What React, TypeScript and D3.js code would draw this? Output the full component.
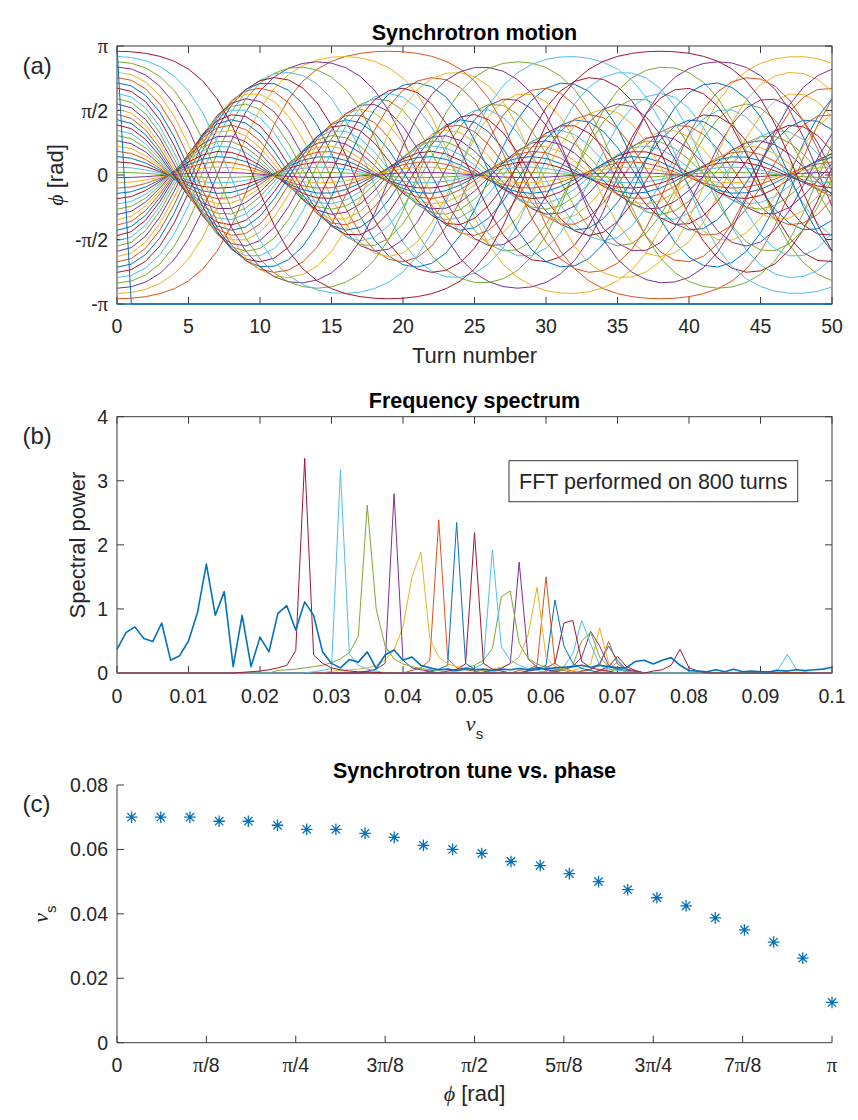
import React from 'react';
import * as d3 from 'd3';

// ---------- shared style ----------
const COLORS = ['#0072BD', '#D95319', '#EDB120', '#7E2F8E', '#77AC30', '#4DBEEE', '#A2142F'];
const SANS = "'Liberation Sans', Arial, Helvetica, sans-serif";
const SERIF = "'Liberation Serif', 'DejaVu Serif', 'Times New Roman', serif";
const INK = '#262626';
const AXIS = '#3a3a3a';

// ---------- panel (a): synchrotron motion ----------
// initial phases of the 50 tracked particles, in units of pi/49
const INITIAL_PHASE_UNITS = [
  -49, -47, -45, -43, -41, -39, -37, -35, -33, -31, -29, -27, -25, -23, -21, -19, -17,
  -15, -13, -11, -9, -7, -5, -3, -1, 1, 3, 5, 7, 9, 11, 13, 15, 17, 19, 21, 23, 25, 27,
  29, 31, 33, 35, 37, 39, 41, 43, 45, 47, 49,
];
const SMALL_AMPLITUDE_TUNE = 0.07;
const N_TURNS = 50;
const TURN_TICKS = [0, 5, 10, 15, 20, 25, 30, 35, 40, 45, 50];
const PHASE_TICK_LABELS = ['-π', '-π/2', '0', 'π/2', 'π'];
const PHASE_TICK_UNITS = [-1, -0.5, 0, 0.5, 1]; // in units of pi

// ---------- panel (b): frequency spectrum ----------
const FREQ_BIN = 1 / 800;
const FREQ_N_BINS = 81;
const FREQ_TICKS = [0, 0.01, 0.02, 0.03, 0.04, 0.05, 0.06, 0.07, 0.08, 0.09, 0.1];
const FREQ_TICK_LABELS = ['0', '0.01', '0.02', '0.03', '0.04', '0.05', '0.06', '0.07', '0.08', '0.09', '0.1'];
const POWER_TICKS = [0, 1, 2, 3, 4];
// spectra of particles 25..48 : [particle, [firstBin, values...], ...]
const SPECTRUM_SEGMENTS: [number, number[][]][] = [
  [25, [[54, 0.01, 0.02, 0.06, 0.02, 0.01]]],
  [26, [[54, 0.03, 0.06, 0.17, 0.06, 0.03]]],
  [27, [[54, 0.04, 0.1, 0.26, 0.1, 0.04]]],
  [28, [[52, 0.03, 0.05, 0.15, 0.42, 0.2, 0.06, 0.03]]],
  [29, [[52, 0.03, 0.06, 0.12, 0.49, 0.14, 0.05, 0.03]]],
  [30, [[51, 0.04, 0.08, 0.14, 0.7, 0.16, 0.07, 0.03]]],
  [31, [[49, 0.03, 0.05, 0.1, 0.25, 0.65, 0.42, 0.12, 0.06, 0.04, 0.03]]],
  [32, [[49, 0.04, 0.06, 0.12, 0.5, 0.64, 0.25, 0.1, 0.05, 0.03]]],
  [33, [[48, 0.03, 0.05, 0.1, 0.3, 0.82, 0.45, 0.12, 0.06, 0.04, 0.03]]],
  [34, [[46, 0.03, 0.05, 0.08, 0.15, 0.78, 0.82, 0.18, 0.08, 0.05, 0.03]]],
  [35, [[46, 0.04, 0.06, 0.12, 1.14, 0.42, 0.15, 0.07, 0.04]]],
  [36, [[45, 0.04, 0.06, 0.12, 1.5, 0.15, 0.06, 0.03]]],
  [37, [[42, 0.06, 0.09, 0.14, 0.25, 0.6, 1.34, 0.25, 0.1, 0.06, 0.04]]],
  [38, [[42, 0.04, 0.07, 0.15, 1.73, 0.22, 0.09, 0.05, 0.03]]],
  [39, [[38, 0.05, 0.08, 0.12, 0.2, 0.38, 1.19, 1.28, 0.46, 0.23, 0.14, 0.09, 0.06, 0.04]]],
  [40, [[38, 0.03, 0.05, 0.08, 0.15, 1.92, 0.41, 0.2, 0.12, 0.07, 0.04]]],
  [41, [[37, 0.03, 0.06, 0.14, 2.19, 0.15, 0.06, 0.03]]],
  [42, [[35, 0.03, 0.06, 0.12, 2.35, 0.15, 0.06, 0.03]]],
  [43, [[33, 0.04, 0.08, 0.2, 2.39, 0.22, 0.08, 0.05, 0.03]]],
  [44, [[24, 0.03, 0.04, 0.05, 0.06, 0.08, 0.12, 0.2, 0.36, 0.72, 1.5, 1.89, 0.54, 0.25, 0.14, 0.1, 0.07, 0.05, 0.04, 0.03]]],
  [45, [[28, 0.03, 0.06, 0.15, 2.8, 0.2, 0.08, 0.05, 0.03]]],
  [46, [[18, 0.04, 0.05, 0.06, 0.08, 0.1, 0.12, 0.16, 0.22, 0.32, 0.57, 2.62, 1.0, 0.42, 0.22, 0.14, 0.1, 0.07, 0.05, 0.04]]],
  [47, [[22, 0.02, 0.04, 0.07, 3.17, 0.3, 0.12, 0.06, 0.03], [73, 0.02, 0.06, 0.29, 0.06, 0.02]]],
  [48, [[14, 0.01, 0.02, 0.03, 0.05, 0.08, 0.12, 0.35, 3.35, 0.28, 0.15, 0.08, 0.05, 0.03, 0.02, 0.02, 0.01],
        [60, 0.03, 0.05, 0.12, 0.37, 0.08, 0.03]]],
];
// spectrum of the particle sitting on the unstable fixed point (particle 49), bins 0..80
const UNSTABLE_SPECTRUM = [
  0.37, 0.63, 0.72, 0.54, 0.49, 0.78, 0.2, 0.27, 0.5, 0.94, 1.7, 0.9, 1.27, 0.1, 0.9, 0.1,
  0.56, 0.33, 0.93, 1.05, 0.67, 1.11, 0.9, 0.33, 0.15, 0.08, 0.21, 0.17, 0.33, 0.07, 0.28,
  0.36, 0.2, 0.25, 0.12, 0.08, 0.05, 0.06, 0.04, 0.07, 0.05, 0.06, 0.04, 0.06, 0.05, 0.07,
  0.05, 0.08, 0.06, 0.08, 0.09, 0.1, 0.12, 0.09, 0.12, 0.1, 0.08, 0.08, 0.18, 0.2, 0.14,
  0.2, 0.24, 0.12, 0.04, 0.03, 0.02, 0.05, 0.02, 0.06, 0.02, 0.03, 0.02, 0.02, 0.04, 0.03,
  0.05, 0.04, 0.05, 0.06, 0.09,
];

// ---------- panel (c): tune vs phase ----------
const TUNE_PHASE_UNITS = [1, 3, 5, 7, 9, 11, 13, 15, 17, 19, 21, 23, 25, 27, 29, 31, 33, 35, 37, 39, 41, 43, 45, 47, 49]; // pi/49
const TUNE_VALUES = [
  0.07, 0.07, 0.07, 0.06875, 0.06875, 0.0675, 0.06625, 0.06625, 0.065, 0.06375, 0.06125,
  0.06, 0.05875, 0.05625, 0.055, 0.0525, 0.05, 0.0475, 0.045, 0.0425, 0.03875, 0.035,
  0.03125, 0.02625, 0.0125,
];
const TUNE_TICKS = [0, 0.02, 0.04, 0.06, 0.08];
const PHASE_X_LABELS = ['0', 'π/8', 'π/4', '3π/8', 'π/2', '5π/8', '3π/4', '7π/8', 'π'];

// ---------- layout ----------
const W = 858;
const H = 1120;
const L = 117;
const R = 832;
const A_TOP = 46, A_BOT = 304;
const B_TOP = 416.7, B_BOT = 673;
const C_TOP = 785, C_BOT = 1042.7;
const TICK = 7;
const TICK_FS = 19.5;
const LABEL_FS = 22;
const TITLE_FS = 21.5;

function PiLabel(props: { label: string; x: number; y: number; anchor: string; fs: number }) {
  const parts = props.label.split(/(π)/).filter((p) => p.length > 0);
  return (
    <text x={props.x} y={props.y} textAnchor={props.anchor} fontSize={props.fs} fontFamily={SANS} fill={INK}>
      {parts.map((p, i) =>
        p === 'π' ? (
          <tspan key={i} fontFamily={SERIF} fontSize={props.fs * 1.05}>π</tspan>
        ) : (
          <tspan key={i}>{p}</tspan>
        )
      )}
    </text>
  );
}

function wrapPhase(v: number): number {
  let w = v;
  while (w >= Math.PI) w -= 2 * Math.PI;
  while (w < -Math.PI) w += 2 * Math.PI;
  return w;
}

function trackParticle(phi0: number): number[] {
  const k = 2 * (1 - Math.cos(2 * Math.PI * SMALL_AMPLITUDE_TUNE));
  const out = [phi0];
  let phi = phi0;
  let d = 0;
  for (let n = 1; n <= N_TURNS; n++) {
    d -= 0.5 * k * Math.sin(phi);
    phi = wrapPhase(phi + d);
    d -= 0.5 * k * Math.sin(phi);
    out.push(phi);
  }
  return out;
}

function buildSpectrum(segments: number[][]): number[] {
  const arr = new Array(FREQ_N_BINS).fill(0);
  segments.forEach((seg) => {
    const start = seg[0];
    seg.slice(1).forEach((v, i) => {
      arr[start + i] = v;
    });
  });
  return arr;
}

export default function App() {
  // ----- (a)
  const xa = d3.scaleLinear().domain([0, N_TURNS]).range([L, R]);
  const ya = d3.scaleLinear().domain([-Math.PI, Math.PI]).range([A_BOT, A_TOP]);
  const lineA = d3
    .line<number>()
    .x((_, i) => xa(i))
    .y((v) => ya(v));
  const tracks = INITIAL_PHASE_UNITS.map((u) => trackParticle((u / 49) * Math.PI));

  // ----- (b)
  const xb = d3.scaleLinear().domain([0, 0.1]).range([L, R]);
  const yb = d3.scaleLinear().domain([0, 4]).range([B_BOT, B_TOP]);
  const lineB = d3
    .line<number>()
    .x((_, i) => xb(i * FREQ_BIN))
    .y((v) => yb(v));

  // ----- (c)
  const xc = d3.scaleLinear().domain([0, Math.PI]).range([L, R]);
  const yc = d3.scaleLinear().domain([0, 0.08]).range([C_BOT, C_TOP]);
  const r = 5.8;
  const rd = r * 0.72;
  const star = `M${-r},0H${r}M0,${-r}V${r}M${-rd},${-rd}L${rd},${rd}M${-rd},${rd}L${rd},${-rd}`;

  const fmt = (v: number) => (v === 0 ? '0' : d3.format('.2f')(v));

  return (
    <svg
      width={W}
      height={H}
      viewBox={`0 0 ${W} ${H}`}
      style={{ position: 'absolute', left: 0, top: 0, background: '#fff' }}
    >
      <defs>
        <clipPath id="clipA">
          <rect x={L - 1} y={A_TOP - 1} width={R - L + 2} height={A_BOT - A_TOP + 2} />
        </clipPath>
        <clipPath id="clipB">
          <rect x={L - 1} y={B_TOP} width={R - L + 2} height={B_BOT - B_TOP + 1} />
        </clipPath>
      </defs>
      <rect x={0} y={0} width={W} height={H} fill="#fff" />

      {/* ================= (a) ================= */}
      <text x={22.5} y={73.5} fontSize={24} fontFamily={SANS} fill={INK}>(a)</text>
      <text x={(L + R) / 2} y={40} textAnchor="middle" fontSize={TITLE_FS} fontWeight="bold" fontFamily={SANS} fill="#000">
        Synchrotron motion
      </text>
      <rect x={L} y={A_TOP} width={R - L} height={A_BOT - A_TOP} fill="#fff" stroke={AXIS} strokeWidth={1} />
      {TURN_TICKS.map((t) => (
        <g key={'at' + t}>
          <line x1={xa(t)} x2={xa(t)} y1={A_BOT} y2={A_BOT - TICK} stroke={AXIS} />
          <line x1={xa(t)} x2={xa(t)} y1={A_TOP} y2={A_TOP + TICK} stroke={AXIS} />
          <text x={xa(t)} y={333} textAnchor="middle" fontSize={TICK_FS} fontFamily={SANS} fill={INK}>
            {t}
          </text>
        </g>
      ))}
      {PHASE_TICK_UNITS.map((u, i) => (
        <g key={'ay' + i}>
          <line x1={L} x2={L + TICK} y1={ya(u * Math.PI)} y2={ya(u * Math.PI)} stroke={AXIS} />
          <line x1={R} x2={R - TICK} y1={ya(u * Math.PI)} y2={ya(u * Math.PI)} stroke={AXIS} />
          <PiLabel label={PHASE_TICK_LABELS[i]} x={108} y={ya(u * Math.PI) + 7} anchor="end" fs={TICK_FS} />
        </g>
      ))}
      <g clipPath="url(#clipA)">
        {tracks.map((tr, i) => (
          <path key={'tr' + i} d={lineA(tr) || ''} fill="none" stroke={COLORS[i % 7]} strokeWidth={1} />
        ))}
      </g>
      <text x={(L + R) / 2} y={363} textAnchor="middle" fontSize={LABEL_FS} fontFamily={SANS} fill={INK}>
        Turn number
      </text>
      <text transform="translate(63,175) rotate(-90)" textAnchor="middle" fontSize={LABEL_FS} fontFamily={SANS} fill={INK}>
        <tspan fontFamily={SERIF} fontStyle="italic">ϕ</tspan>
        <tspan> [rad]</tspan>
      </text>

      {/* ================= (b) ================= */}
      <text x={22.5} y={443.5} fontSize={24} fontFamily={SANS} fill={INK}>(b)</text>
      <text x={(L + R) / 2} y={408} textAnchor="middle" fontSize={TITLE_FS} fontWeight="bold" fontFamily={SANS} fill="#000">
        Frequency spectrum
      </text>
      <rect x={L} y={B_TOP} width={R - L} height={B_BOT - B_TOP} fill="#fff" stroke={AXIS} strokeWidth={1} />
      {FREQ_TICKS.map((t, i) => (
        <g key={'bt' + i}>
          <line x1={xb(t)} x2={xb(t)} y1={B_BOT} y2={B_BOT - TICK} stroke={AXIS} />
          <line x1={xb(t)} x2={xb(t)} y1={B_TOP} y2={B_TOP + TICK} stroke={AXIS} />
          <text x={xb(t)} y={703} textAnchor="middle" fontSize={TICK_FS} fontFamily={SANS} fill={INK}>
            {FREQ_TICK_LABELS[i]}
          </text>
        </g>
      ))}
      {POWER_TICKS.map((t) => (
        <g key={'by' + t}>
          <line x1={L} x2={L + TICK} y1={yb(t)} y2={yb(t)} stroke={AXIS} />
          <line x1={R} x2={R - TICK} y1={yb(t)} y2={yb(t)} stroke={AXIS} />
          <text x={108} y={yb(t) + 7} textAnchor="end" fontSize={TICK_FS} fontFamily={SANS} fill={INK}>
            {t}
          </text>
        </g>
      ))}
      <g clipPath="url(#clipB)">
        {SPECTRUM_SEGMENTS.map(([p, segs]) => (
          <path key={'sp' + p} d={lineB(buildSpectrum(segs)) || ''} fill="none" stroke={COLORS[p % 7]} strokeWidth={1} />
        ))}
        <path d={lineB(UNSTABLE_SPECTRUM) || ''} fill="none" stroke={COLORS[49 % 7]} strokeWidth={1.6} strokeLinejoin="round" />
      </g>
      <rect x={509} y={460.7} width={288.7} height={41} fill="#fff" stroke={AXIS} strokeWidth={1} />
      <text x={653.3} y={489.3} textAnchor="middle" fontSize={21.5} fontFamily={SANS} fill={INK}>
        FFT performed on 800 turns
      </text>
      <text x={(L + R) / 2} y={731} textAnchor="middle" fontSize={LABEL_FS} fontFamily={SANS} fill={INK}>
        <tspan fontFamily={SERIF} fontStyle="italic">ν</tspan>
        <tspan fontSize={15} dy={8}>s</tspan>
      </text>
      <text transform="translate(85,545) rotate(-90)" textAnchor="middle" fontSize={LABEL_FS} fontFamily={SANS} fill={INK}>
        Spectral power
      </text>

      {/* ================= (c) ================= */}
      <text x={22.5} y={811.5} fontSize={24} fontFamily={SANS} fill={INK}>(c)</text>
      <text x={(L + R) / 2} y={778} textAnchor="middle" fontSize={TITLE_FS} fontWeight="bold" fontFamily={SANS} fill="#000">
        Synchrotron tune vs. phase
      </text>
      <line x1={L} x2={L} y1={C_TOP} y2={C_BOT} stroke={AXIS} />
      <line x1={L} x2={R} y1={C_BOT} y2={C_BOT} stroke={AXIS} />
      {PHASE_X_LABELS.map((lab, i) => {
        const v = (i / 8) * Math.PI;
        return (
          <g key={'ct' + i}>
            <line x1={xc(v)} x2={xc(v)} y1={C_BOT} y2={C_BOT - TICK} stroke={AXIS} />
            <PiLabel label={lab} x={xc(v)} y={1072} anchor="middle" fs={TICK_FS} />
          </g>
        );
      })}
      {TUNE_TICKS.map((t) => (
        <g key={'cy' + t}>
          <line x1={L} x2={L + TICK} y1={yc(t)} y2={yc(t)} stroke={AXIS} />
          <text x={108} y={yc(t) + 7} textAnchor="end" fontSize={TICK_FS} fontFamily={SANS} fill={INK}>
            {fmt(t)}
          </text>
        </g>
      ))}
      {TUNE_PHASE_UNITS.map((u, i) => (
        <path
          key={'st' + i}
          transform={`translate(${xc((u / 49) * Math.PI)},${yc(TUNE_VALUES[i])})`}
          d={star}
          stroke={COLORS[0]}
          strokeWidth={1.3}
          fill="none"
        />
      ))}
      <text x={(L + R) / 2} y={1101} textAnchor="middle" fontSize={LABEL_FS} fontFamily={SANS} fill={INK}>
        <tspan fontFamily={SERIF} fontStyle="italic">ϕ</tspan>
        <tspan> [rad]</tspan>
      </text>
      <text transform="translate(48,914) rotate(-90)" textAnchor="middle" fontSize={LABEL_FS} fontFamily={SANS} fill={INK}>
        <tspan fontFamily={SERIF} fontStyle="italic">ν</tspan>
        <tspan fontSize={15} dy={8}>s</tspan>
      </text>
    </svg>
  );
}
